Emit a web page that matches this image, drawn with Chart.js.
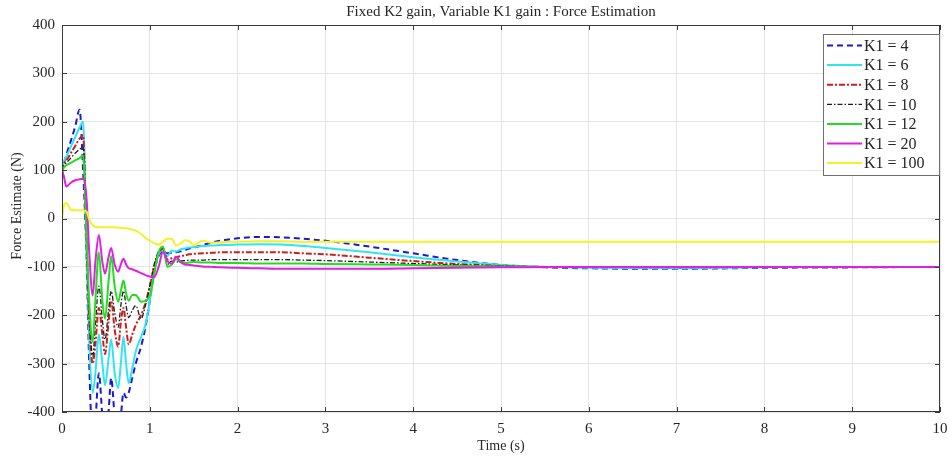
<!DOCTYPE html>
<html lang="en">
<head>
  <meta charset="UTF-8" />
  <title>Force Estimation</title>
  <script src="https://cdn.jsdelivr.net/npm/chart.js"></script>
  <style>
    body {
      margin: 0;
      background: white;
    }
    canvas {
      display: block;
    }
  </style>
</head>
<body>
  <canvas id="forceChart" width="952" height="459"></canvas>

  <script>
    // simulation time (s), dense during the transient
    const timeS = [0, 0.02, 0.05, 0.1, 0.15, 0.2, 0.24, 0.28, 0.31, 0.35,
      0.38, 0.42, 0.46, 0.49, 0.53, 0.56, 0.60, 0.64, 0.67, 0.70,
      0.73, 0.76, 0.80, 0.84, 0.90, 0.95, 1.0, 1.05, 1.1, 1.15,
      1.2, 1.25, 1.3, 1.35, 1.4, 1.45, 1.5, 1.6, 1.7, 1.8,
      2.0, 2.25, 2.5, 2.75, 3.0, 3.5, 4.0, 4.5, 5.0, 5.5,
      6, 7, 8, 9, 10];

    // force estimate (N) for each K1 gain
    const estK1_4 = [95, 112, 132, 160, 190, 225, 100, -80, -300, -460,
      -420, -320, -410, -460, -400, -330, -410, -460, -410, -360,
      -370, -360, -330, -300, -265, -225, -170, -110, -78, -68,
      -72, -71, -70, -68, -65, -62, -60, -55, -50, -46,
      -41, -38, -39, -42, -46, -58, -72, -86, -96, -101,
      -103, -104, -102, -101, -100];
    const estK1_6 = [100, 118, 128, 148, 168, 188, 200, -60, -250, -360,
      -320, -240, -300, -345, -290, -250, -320, -350, -300, -245,
      -300, -340, -310, -275, -245, -220, -170, -110, -75, -65,
      -78, -66, -68, -64, -62, -60, -59, -57, -56, -55,
      -54, -53, -54, -57, -61, -70, -80, -89, -96, -100,
      -102, -103, -101, -100, -100];
    const estK1_8 = [98, 112, 120, 135, 150, 165, 172, -50, -210, -300,
      -260, -185, -240, -280, -215, -170, -230, -265, -215, -185,
      -225, -260, -240, -220, -200, -175, -140, -100, -72, -62,
      -85, -82, -80, -78, -76, -74, -73, -72, -71, -70,
      -70, -70, -70, -72, -74, -81, -88, -94, -98, -100,
      -100, -101, -100, -100, -100];
    const estK1_10 = [100, 110, 115, 125, 135, 143, 148, -40, -190, -285,
      -220, -140, -210, -250, -190, -150, -195, -225, -180, -150,
      -180, -205, -190, -180, -207, -180, -140, -95, -68, -62,
      -95, -88, -90, -88, -87, -86, -86, -86, -85, -85,
      -85, -85, -85, -86, -87, -90, -93, -96, -98, -100,
      -100, -100, -100, -100, -100];
    const estK1_12 = [95, 105, 110, 115, 120, 125, 130, -40, -170, -255,
      -170, -70, -170, -207, -130, -78, -140, -172, -150, -128,
      -155, -170, -158, -158, -172, -170, -160, -115, -70, -58,
      -100, -95, -84, -90, -92, -91, -90, -91, -91, -92,
      -92, -93, -93, -93, -94, -95, -96, -98, -99, -100,
      -100, -100, -100, -100, -100];
    const estK1_20 = [100, 88, 66, 74, 79, 81, 82, 40, -70, -159,
      -90, -34, -90, -114, -80, -61, -95, -110, -95, -83,
      -95, -103, -105, -108, -113, -117, -120, -121, -100, -69,
      -88, -93, -79, -90, -95, -96, -97, -99, -100, -101,
      -102, -103, -104, -104, -104, -104, -103, -102, -101, -100,
      -100, -100, -100, -100, -100];
    const estK1_100 = [0, 25, 32, 18, 17, 17, 17, 14, -2, -14,
      -17, -18, -18, -18, -18, -18, -18, -19, -19, -20,
      -20, -21, -23, -25, -32, -40, -46, -51, -54, -48,
      -42, -42, -56, -52, -45, -47, -55, -46, -50, -49,
      -48, -47, -47, -48, -48, -48, -48, -48, -48, -48,
      -48, -48, -48, -48, -48];

    const seriesLabels = ['K1 = 4', 'K1 = 6', 'K1 = 8', 'K1 = 10', 'K1 = 12', 'K1 = 20', 'K1 = 100'];
    const seriesValues = [estK1_4, estK1_6, estK1_8, estK1_10, estK1_12, estK1_20, estK1_100];
    const seriesColors = ['#1a1ad2', '#30e4f2', '#d01c1c', '#1e1e1e', '#22dd22', '#e020e0', '#f2f226'];
    const seriesDash = [[6, 4], [], [6, 2, 2, 2], [5, 2, 1.5, 2], [], [], []];
    const seriesWidth = [2, 2, 2, 1.3, 2, 2, 2];

    const serif = "'Liberation Serif', 'Times New Roman', serif";
    const ink = '#262626';

    // box, inward ticks, titles and legend, drawn the way MATLAB does it
    const axesFrame = {
      id: 'axesFrame',
      afterDatasetsDraw(chart) {
        const { ctx, chartArea: a, scales: { x, y } } = chart;
        ctx.save();
        ctx.strokeStyle = '#3a3a3a';
        ctx.lineWidth = 1;
        ctx.strokeRect(a.left + 0.5, a.top + 0.5, a.width - 1, a.height - 1);

        const tick = 5;
        ctx.beginPath();
        x.ticks.forEach(t => {
          const px = Math.round(x.getPixelForValue(t.value)) + 0.5;
          ctx.moveTo(px, a.bottom); ctx.lineTo(px, a.bottom - tick);
          ctx.moveTo(px, a.top); ctx.lineTo(px, a.top + tick);
        });
        y.ticks.forEach(t => {
          const py = Math.round(y.getPixelForValue(t.value)) + 0.5;
          ctx.moveTo(a.left, py); ctx.lineTo(a.left + tick, py);
          ctx.moveTo(a.right, py); ctx.lineTo(a.right - tick, py);
        });
        ctx.stroke();

        // title over the axes
        ctx.fillStyle = ink;
        ctx.font = '15px ' + serif;
        ctx.textAlign = 'center';
        ctx.textBaseline = 'middle';
        ctx.fillText('Fixed K2 gain, Variable K1 gain : Force Estimation', (a.left + a.right) / 2, 12);

        // y axis label
        ctx.save();
        ctx.translate(17, 206);
        ctx.rotate(-Math.PI / 2);
        ctx.font = '14px ' + serif;
        ctx.fillText('Force Estimate (N)', 0, 0);
        ctx.restore();

        // legend in the upper right corner
        const box = { left: 823, top: 34, width: 116, height: 141 };
        ctx.fillStyle = 'white';
        ctx.fillRect(box.left, box.top, box.width, box.height);
        ctx.strokeStyle = '#707070';
        ctx.strokeRect(box.left + 0.5, box.top + 0.5, box.width, box.height);
        ctx.font = '16px ' + serif;
        ctx.textAlign = 'left';
        chart.data.datasets.forEach((ds, i) => {
          const cy = box.top + 11.5 + i * 19.6;
          ctx.strokeStyle = ds.borderColor;
          ctx.lineWidth = ds.borderWidth;
          ctx.setLineDash(ds.borderDash || []);
          ctx.beginPath();
          ctx.moveTo(box.left + 4, cy);
          ctx.lineTo(box.left + 39, cy);
          ctx.stroke();
          ctx.setLineDash([]);
          ctx.fillStyle = ink;
          ctx.fillText(ds.label, box.left + 41, cy + 1);
        });
        ctx.restore();
      }
    };

    const ctx = document.getElementById('forceChart').getContext('2d');
    new Chart(ctx, {
      type: 'line',
      data: {
        datasets: seriesLabels.map((label, i) => ({
          label: label,
          data: timeS.map((t, j) => ({ x: t, y: seriesValues[i][j] })),
          borderColor: seriesColors[i],
          borderDash: seriesDash[i],
          borderWidth: seriesWidth[i],
          pointRadius: 0,
          fill: false,
          cubicInterpolationMode: 'monotone',
          order: seriesLabels.length - i
        }))
      },
      options: {
        responsive: false,
        animation: false,
        layout: { padding: { left: 0, right: 12, top: 25, bottom: 0 } },
        plugins: {
          legend: { display: false },
          tooltip: { enabled: false }
        },
        scales: {
          x: {
            type: 'linear',
            min: 0,
            max: 10,
            ticks: { stepSize: 1, color: ink, padding: 8, maxRotation: 0, font: { family: serif, size: 15 } },
            grid: { color: '#e4e4e4', drawTicks: false },
            border: { display: false },
            title: { display: true, text: 'Time (s)', color: ink, font: { family: serif, size: 14 }, padding: { top: 0, bottom: 4 } },
            afterFit: s => { s.height = 47; s.paddingLeft = 0; s.paddingRight = 0; }
          },
          y: {
            min: -400,
            max: 400,
            ticks: { stepSize: 100, color: ink, padding: 7, font: { family: serif, size: 15 } },
            grid: { color: '#e4e4e4', drawTicks: false },
            border: { display: false },
            afterFit: s => { s.width = 62; s.paddingTop = 0; s.paddingBottom = 0; }
          }
        }
      },
      plugins: [axesFrame]
    });
  </script>
</body>
</html>
